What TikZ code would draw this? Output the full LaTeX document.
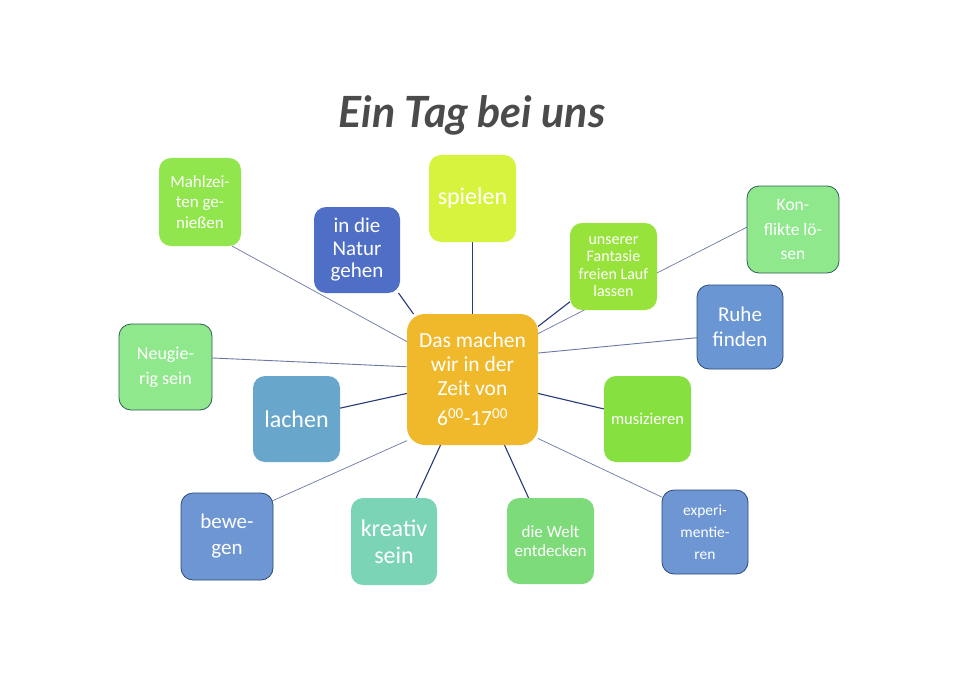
\documentclass[tikz,border=0pt]{standalone}
\usepackage{fontspec}
\setmainfont{Carlito}
\newfontfamily\titlefont{Lato}
\usetikzlibrary{backgrounds}
\newcommand\fsz[2]{\fontsize{#1}{#2}\selectfont}
\definecolor{cMahl}{HTML}{90E64C}
\definecolor{cNatur}{HTML}{4F6FC6}
\definecolor{cSpiel}{HTML}{D8F33E}
\definecolor{cFant}{HTML}{98E33B}
\definecolor{cKonf}{HTML}{8FE98C}
\definecolor{cRuhe}{HTML}{6B96D4}
\definecolor{cCenter}{HTML}{F0B92B}
\definecolor{cNeu}{HTML}{8FE98C}
\definecolor{cLach}{HTML}{68A7CB}
\definecolor{cBew}{HTML}{6D96D3}
\definecolor{cKrea}{HTML}{7CD4B7}
\definecolor{cWelt}{HTML}{7EDB7A}
\definecolor{cMusi}{HTML}{86E03F}
\definecolor{cExp}{HTML}{6D96D3}
\definecolor{bGreen}{HTML}{2E5E55}
\definecolor{bBlue}{HTML}{2C4A7A}
\definecolor{lineLight}{HTML}{6A78A6}
\definecolor{lineDark}{HTML}{283A78}
\definecolor{titleGray}{HTML}{4B4B4B}
\begin{document}
\begin{tikzpicture}[x=1pt,y=-1pt,
  box/.style={rectangle, rounded corners=12pt, inner sep=0pt, outer sep=0pt, align=center, text=white},
  framed/.style={draw=#1, line width=0.8pt},
  lightline/.style={draw=lineLight, line width=0.7pt},
  darkline/.style={draw=lineDark, line width=1.1pt}]
\useasboundingbox (0,0) rectangle (960,679);

\node[font=\titlefont\bfseries\itshape\fsz{43}{43}, text=titleGray] (title) at (472,115) {Ein Tag bei uns};

\node[box, fill=cCenter, rounded corners=18pt, minimum width=131pt, minimum height=131pt, font=\fsz{21.5}{24}] (c) at (472.5,379.5)
  {Das machen\\wir in der\\Zeit von\\[6pt]6\textsuperscript{00}-17\textsuperscript{00}};

\node[box, fill=cMahl, minimum width=82pt, minimum height=88pt, font=\fsz{17}{20.5}] (m) at (200,202) {Mahlzei-\\ten ge-\\nießen};
\node[box, fill=cNatur, minimum width=86pt, minimum height=86pt, font=\fsz{21}{22.5}] (n) at (357,250) {in die\\Natur\\gehen};
\node[box, fill=cSpiel, minimum width=87pt, minimum height=87pt, font=\fsz{24}{26}] (s) at (472.5,198.5) {spielen};
\node[box, fill=cFant, minimum width=87pt, minimum height=87pt, font=\fsz{16}{17.5}] (f) at (613.5,266.5) {unserer\\Fantasie\\freien Lauf\\lassen};
\node[box, fill=cKonf, framed=bGreen, minimum width=92pt, minimum height=87pt, font=\fsz{17.5}{24.5}] (k) at (793,229.5) {Kon-\\flikte lö-\\sen};
\node[box, fill=cRuhe, framed=bBlue, minimum width=86pt, minimum height=84pt, font=\fsz{21}{25}] (r) at (740,327) {Ruhe\\finden};
\node[box, fill=cNeu, framed=bGreen, minimum width=93pt, minimum height=86pt, font=\fsz{18}{25}] (ng) at (165.5,367) {Neugie-\\rig sein};
\node[box, fill=cLach, minimum width=87pt, minimum height=86pt, font=\fsz{24}{26}] (l) at (296.5,419) {lachen};
\node[box, fill=cBew, framed=bBlue, minimum width=92pt, minimum height=87pt, font=\fsz{21}{26}] (b) at (227,536.5) {bewe-\\gen};
\node[box, fill=cKrea, minimum width=86pt, minimum height=87pt, font=\fsz{24}{27}] (kr) at (394,541.5) {kreativ\\sein};
\node[box, fill=cWelt, minimum width=87pt, minimum height=86pt, font=\fsz{17}{19}] (w) at (550.5,541) {die Welt\\entdecken};
\node[box, fill=cMusi, minimum width=87pt, minimum height=86pt, font=\fsz{16.5}{19}] (mu) at (647.5,419) {musizieren};
\node[box, fill=cExp, framed=bBlue, minimum width=86pt, minimum height=84pt, font=\fsz{15.5}{22}] (ex) at (705,532) {experi-\\mentie-\\ren};

\begin{scope}[on background layer]
\fill[white] (0,0) rectangle (960,679);
\draw[lightline] (c.150) -- (m.306);
\draw[darkline] (c.132) -- (n.314);
\draw[darkline] (c.90) -- (s.270);
\draw[darkline] (c.39) -- (f.219);
\draw[lightline] (c.35) -- (k.177);
\draw[lightline, line width=0.9pt] (c.22) -- (r.194);
\draw[lightline, line width=0.9pt] (c.169) -- (ng.11);
\draw[darkline] (c.192) -- (l.14);
\draw[lightline] (c.223) -- (b.38);
\draw[darkline] (c.244) -- (kr.63);
\draw[darkline] (c.296) -- (w.117);
\draw[darkline] (c.348) -- (mu.167);
\draw[lightline] (c.318) -- (ex.141);
\end{scope}
\end{tikzpicture}
\end{document}
